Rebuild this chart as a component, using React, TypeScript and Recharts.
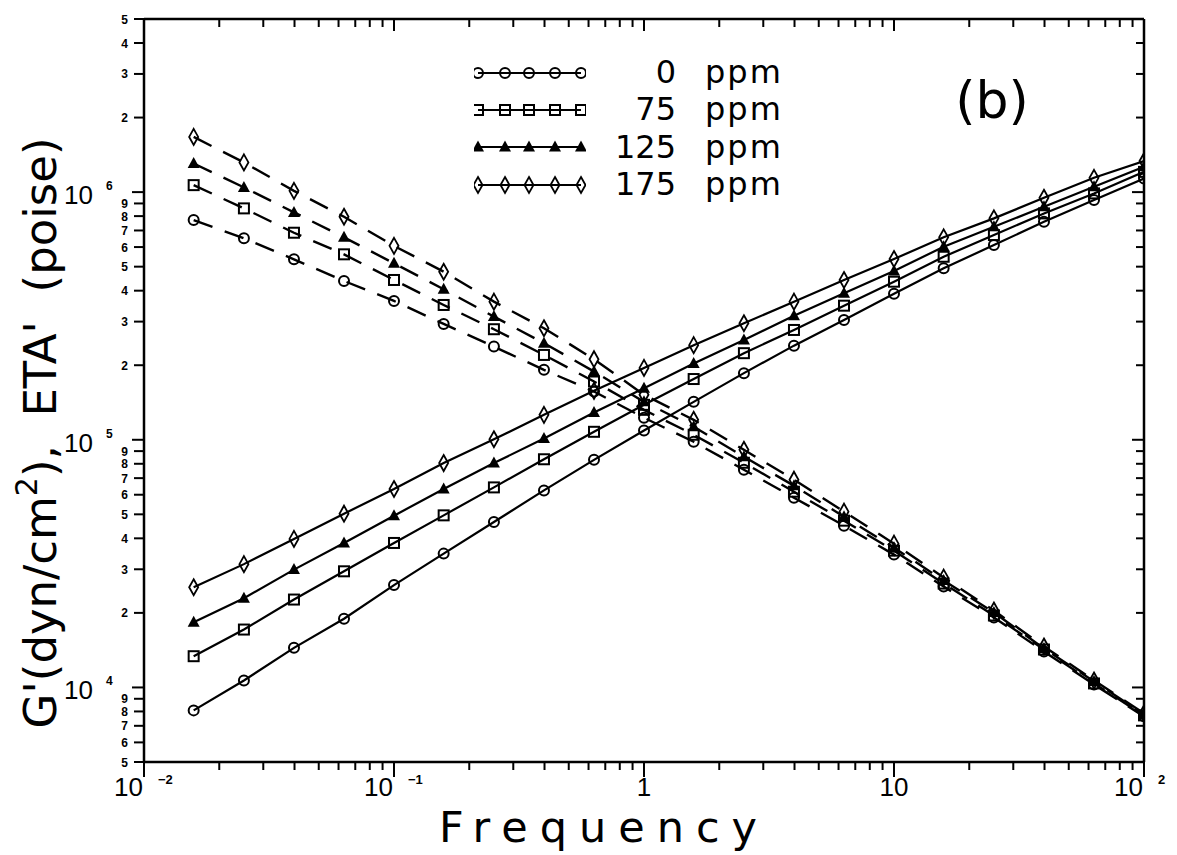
import { ComposedChart, Line, XAxis, YAxis, Legend, Customized } from 'recharts';

// frequency points, 5 per decade
const freq = [0.0158, 0.0251, 0.0398, 0.0631, 0.1, 0.158, 0.251, 0.398, 0.631, 1, 1.58, 2.51, 3.98, 6.31, 10, 15.8, 25.1, 39.8, 63.1, 100];

// G' (dyn/cm^2), solid lines
const g0 = [8080, 10670, 14450, 18940, 25900, 34700, 46560, 62470, 83000, 109000, 142300, 185800, 239900, 304700, 389000, 492500, 611400, 758600, 928600, 1135000];
const g75 = [13370, 17130, 22640, 29440, 38320, 49530, 64230, 83430, 107700, 138400, 175900, 223700, 277600, 347900, 434800, 548300, 670800, 820400, 988000, 1207000];
const g125 = [18340, 22910, 29910, 38320, 49380, 63280, 80540, 101200, 128800, 161600, 203100, 253000, 317100, 390500, 480400, 601700, 724400, 872300, 1051000, 1265000];
const g175 = [25380, 31470, 39780, 50300, 63280, 80540, 100460, 126100, 157600, 195100, 241000, 295500, 361200, 441800, 536800, 656800, 783400, 948400, 1142000, 1334000];

// ETA' (poise), dashed lines
const eta0 = [771300, 650700, 535400, 437700, 363500, 293600, 237800, 191600, 156600, 122700, 98150, 75680, 58370, 45000, 34390, 25550, 19160, 13970, 10280, 7642];
const eta75 = [1067000, 859600, 685500, 560800, 441800, 350200, 279500, 220100, 171900, 132100, 104800, 80770, 61710, 47140, 35670, 26270, 19520, 14230, 10380, 7713];
const eta125 = [1305000, 1045000, 828200, 656800, 515900, 405200, 314300, 245400, 188600, 142300, 112800, 85410, 65240, 48930, 36680, 27010, 20070, 14370, 10570, 7784];
const eta175 = [1671000, 1318000, 1012000, 795100, 606700, 477000, 361200, 282100, 211500, 151900, 120400, 91100, 69000, 51260, 38080, 27770, 20440, 14635, 10670, 7858];

const seriesNames = ['0', '75', '125', '175'];

const xTicks = [
  0.01, 0.02, 0.03, 0.04, 0.05, 0.06, 0.07, 0.08, 0.09,
  0.1, 0.2, 0.3, 0.4, 0.5, 0.6, 0.7, 0.8, 0.9,
  1, 2, 3, 4, 5, 6, 7, 8, 9,
  10, 20, 30, 40, 50, 60, 70, 80, 90,
  100,
];
const yTicks = [
  5000, 6000, 7000, 8000, 9000,
  10000, 20000, 30000, 40000, 50000, 60000, 70000, 80000, 90000,
  100000, 200000, 300000, 400000, 500000, 600000, 700000, 800000, 900000,
  1000000, 2000000, 3000000, 4000000, 5000000,
];

type Shape = 'circle' | 'square' | 'triangle' | 'diamond';
const shapes: Shape[] = ['circle', 'square', 'triangle', 'diamond'];

const rows = freq.map((f, i) => ({
  f,
  g0: g0[i], g75: g75[i], g125: g125[i], g175: g175[i],
  e0: eta0[i], e75: eta75[i], e125: eta125[i], e175: eta175[i],
}));

const gKeys = ['g0', 'g75', 'g125', 'g175'];
const eKeys = ['e0', 'e75', 'e125', 'e175'];

const FONT = '"DejaVu Sans", sans-serif';
const NUM_FONT = '"Liberation Sans", Arial, sans-serif';

function isDecade(v: number) {
  const l = Math.log10(v);
  return Math.abs(l - Math.round(l)) < 1e-6;
}

function Marker({ cx, cy, shape }: { cx: number; cy: number; shape: Shape }) {
  if (cx == null || cy == null) return null;
  switch (shape) {
    case 'circle':
      return <circle cx={cx} cy={cy} r={5} fill="none" stroke="#000" strokeWidth={2} />;
    case 'square':
      return <rect x={cx - 5} y={cy - 5} width={10} height={10} fill="none" stroke="#000" strokeWidth={2} />;
    case 'triangle':
      return <path d={`M${cx},${cy - 6.5}L${cx + 6},${cy + 4.5}L${cx - 6},${cy + 4.5}Z`} fill="#000" />;
    default:
      return (
        <path
          d={`M${cx},${cy - 8}L${cx + 4.5},${cy}L${cx},${cy + 8}L${cx - 4.5},${cy}Z`}
          fill="none"
          stroke="#000"
          strokeWidth={1.8}
        />
      );
  }
}

const dotFor = (shape: Shape) => (p: any) => (
  <Marker key={`${shape}-${p.index}`} cx={p.cx} cy={p.cy} shape={shape} />
);

function BottomTick(props: any) {
  const { x, y, payload } = props;
  const v = payload.value as number;
  const major = isDecade(v);
  const exp = Math.round(Math.log10(v));
  return (
    <g>
      <line x1={x} x2={x} y1={y} y2={y + (major ? 15 : 8)} stroke="#000" strokeWidth={2} />
      {major && (exp === 0 || exp === 1) && (
        <text x={x} y={y + 34} textAnchor="middle" fontSize={26} fontFamily={NUM_FONT}>
          {exp === 0 ? '1' : '10'}
        </text>
      )}
      {major && exp !== 0 && exp !== 1 && (
        <g>
          <text x={x - 1} y={y + 34} textAnchor="end" fontSize={26} fontFamily={NUM_FONT}>10</text>
          <text x={x + 14} y={y + 22} fontSize={13} fontWeight="bold" fontFamily={NUM_FONT}>
            {exp < 0 ? `\u2212${-exp}` : String(exp)}
          </text>
        </g>
      )}
    </g>
  );
}

function TopTick(props: any) {
  const { x, y, payload } = props;
  const major = isDecade(payload.value);
  return <line x1={x} x2={x} y1={y} y2={y + (major ? 12 : 8)} stroke="#000" strokeWidth={2} />;
}

function LeftTick(props: any) {
  const { x, y, payload } = props;
  const v = payload.value as number;
  const major = isDecade(v);
  const exp = Math.floor(Math.log10(v) + 1e-9);
  const mant = Math.round(v / Math.pow(10, exp));
  return (
    <g>
      <line x1={x - (major ? 12 : 10)} x2={x} y1={y} y2={y} stroke="#000" strokeWidth={2} />
      {major ? (
        <g>
          <text x={x - 51} y={y + 12} textAnchor="end" fontSize={26} fontFamily={NUM_FONT}>10</text>
          <text x={x - 38} y={y - 2} fontSize={12} fontWeight="bold" fontFamily={NUM_FONT}>{exp}</text>
        </g>
      ) : (
        <text x={x - 16} y={y + 4.5} textAnchor="end" fontSize={12} fontWeight="bold" fontFamily={NUM_FONT}>
          {mant}
        </text>
      )}
    </g>
  );
}

function RightTick(props: any) {
  const { x, y, payload } = props;
  const major = isDecade(payload.value);
  return <line x1={x - (major ? 12 : 8)} x2={x} y1={y} y2={y} stroke="#000" strokeWidth={2} />;
}

function Annotations() {
  return (
    <g fontFamily={FONT} fill="#000">
      <text
        transform="translate(56,433) rotate(-90)"
        textAnchor="middle"
        fontSize={45}
        style={{ whiteSpace: 'pre' }}
      >
        G'(dyn/cm<tspan fontSize={30} dy={-19}>2</tspan>
        <tspan dy={19}>),  ETA'  (poise)</tspan>
      </text>
      <text x={604} y={842} textAnchor="middle" fontSize={43} letterSpacing={12}>
        Frequency
      </text>
      <text x={992} y={118} textAnchor="middle" fontSize={52}>
        (b)
      </text>
    </g>
  );
}

function renderLegend(props: any) {
  const payload = (props.payload ?? []) as any[];
  const markerX = [4, 31, 55, 81, 107];
  return (
    <div style={{ fontFamily: FONT }}>
      {gKeys.map((key, idx) => {
        const entry = payload.find((e) => String(e.dataKey) === key);
        if (!entry) return null;
        return (
          <div key={key} style={{ display: 'flex', alignItems: 'center', height: 37.3 }}>
            <svg width={112} height={20} style={{ display: 'block' }}>
              <line x1={4} x2={107} y1={10} y2={10} stroke="#000" strokeWidth={2} />
              {markerX.map((mx) => (
                <Marker key={mx} cx={mx} cy={10} shape={shapes[idx]} />
              ))}
            </svg>
            <span style={{ width: 90, textAlign: 'right', fontSize: 32, lineHeight: '37px' }}>{entry.value}</span>
            <span style={{ marginLeft: 29, fontSize: 32, lineHeight: '37px', letterSpacing: 2 }}>ppm</span>
          </div>
        );
      })}
    </div>
  );
}

export default function App() {
  return (
    <div style={{ position: 'absolute', left: 0, top: 0, width: 1177, height: 855, background: '#fff' }}>
      <ComposedChart width={1177} height={855} data={rows} margin={{ top: 18, right: 32, bottom: 63, left: 84 }}>
        <XAxis
          xAxisId="b"
          dataKey="f"
          type="number"
          scale="log"
          domain={[0.01, 100]}
          allowDataOverflow
          ticks={xTicks}
          interval={0}
          height={30}
          tickSize={0}
          tickMargin={0}
          tickLine={false}
          axisLine={{ stroke: '#000', strokeWidth: 2.5 }}
          tick={BottomTick}
        />
        <XAxis
          xAxisId="t"
          orientation="top"
          dataKey="f"
          type="number"
          scale="log"
          domain={[0.01, 100]}
          allowDataOverflow
          ticks={xTicks}
          interval={0}
          height={1}
          tickSize={0}
          tickMargin={0}
          tickLine={false}
          axisLine={{ stroke: '#000', strokeWidth: 2.5 }}
          tick={TopTick}
        />
        <YAxis
          yAxisId="l"
          type="number"
          scale="log"
          domain={[5000, 5000000]}
          allowDataOverflow
          ticks={yTicks}
          interval={0}
          width={60}
          tickSize={0}
          tickMargin={0}
          tickLine={false}
          axisLine={{ stroke: '#000', strokeWidth: 2.5 }}
          tick={LeftTick}
        />
        <YAxis
          yAxisId="r"
          orientation="right"
          type="number"
          scale="log"
          domain={[5000, 5000000]}
          allowDataOverflow
          ticks={yTicks}
          interval={0}
          width={1}
          tickSize={0}
          tickMargin={0}
          tickLine={false}
          axisLine={{ stroke: '#000', strokeWidth: 2.5 }}
          tick={RightTick}
        />
        {gKeys.map((k, i) => (
          <Line
            key={k}
            xAxisId="b"
            yAxisId="l"
            type="linear"
            dataKey={k}
            name={seriesNames[i]}
            stroke="#000"
            strokeWidth={2.2}
            dot={dotFor(shapes[i])}
            activeDot={false}
            isAnimationActive={false}
          />
        ))}
        {eKeys.map((k, i) => (
          <Line
            key={k}
            xAxisId="b"
            yAxisId="l"
            type="linear"
            dataKey={k}
            name={`eta ${seriesNames[i]}`}
            legendType="none"
            stroke="#000"
            strokeWidth={2.4}
            strokeDasharray="20 13"
            dot={dotFor(shapes[i])}
            activeDot={false}
            isAnimationActive={false}
          />
        ))}
        <Legend
          layout="vertical"
          align="center"
          verticalAlign="middle"
          content={renderLegend}
          wrapperStyle={{ left: 474, top: 54, width: 340, height: 150 }}
        />
        <Customized component={<Annotations />} />
      </ComposedChart>
    </div>
  );
}
